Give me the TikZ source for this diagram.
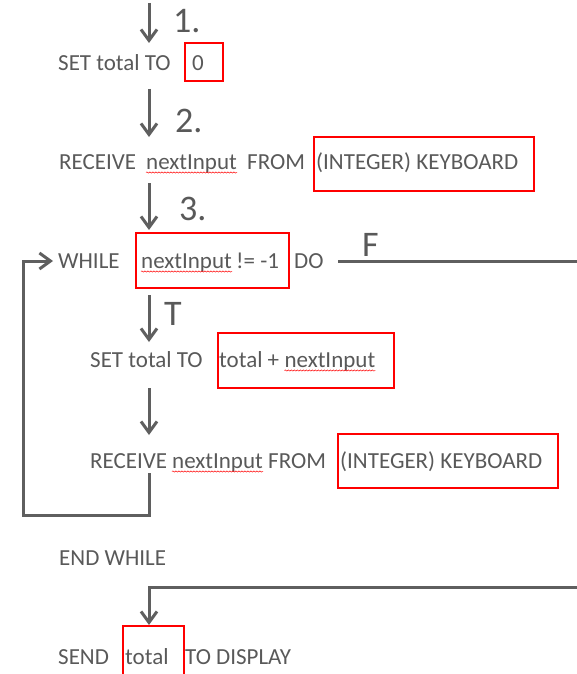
\documentclass[tikz,border=0pt]{standalone}
\usepackage{fontspec}
\setmainfont{Carlito}
\usetikzlibrary{arrows.meta,decorations.pathmorphing}

\definecolor{ink}{RGB}{89,89,89}
\definecolor{flowline}{RGB}{95,95,95}
\definecolor{mark}{RGB}{255,0,0}

\tikzset{
  word/.style={inner sep=0pt, anchor=base west, text=ink,
    font=\fontsize{23}{27}\selectfont},
  bignum/.style={inner sep=0pt, anchor=base west, text=ink,
    font=\fontsize{36}{40}\selectfont},
  flow/.style={draw=flowline, line width=3pt,
    -{Straight Barb[length=11pt,width=16pt,line width=3pt]}},
  plainflow/.style={draw=flowline, line width=3pt},
  hilite/.style={draw=mark, line width=2.5pt},
  squiggle/.style={draw=mark, line width=0.5pt,
    decorate, decoration={snake, segment length=3pt, amplitude=0.6pt}},
}

\newcommand{\spellmark}[1]{%
  \draw[squiggle] ([yshift=-3.5pt]#1.base west) -- ([yshift=-3.5pt]#1.base east);}

\begin{document}
\begin{tikzpicture}[x=1pt, y=-1pt]
\useasboundingbox (0,0) rectangle (577,674);

% ---- step 1: initialise the total
\coordinate (a1s) at (149,3);
\coordinate (a1e) at (149,43);
\node[bignum] (n1) at (173,33) {1.};
\node[word] (s1) at (58,71) {SET total TO};
\node[word] (s1v) at (192,71) {0};
\draw[hilite] (185,43) rectangle (223,81);
\draw[flow] (a1s) -- (a1e);

% ---- step 2: first input
\coordinate (a2s) at (149,89);
\coordinate (a2e) at (149,137);
\node[bignum] (n2) at (175,132) {2.};
\node[word] (r1) at (59,169) {RECEIVE};
\node[word] (r1n) at (146,169) {nextInput};
\node[word] (r1f) at (247,169) {FROM};
\node[word] (r1k) at (316,169) {(INTEGER) KEYBOARD};
\spellmark{r1n}
\draw[hilite] (314,137) rectangle (534,191);
\draw[flow] (a2s) -- (a2e);

% ---- step 3: loop condition
\coordinate (a3s) at (149,183);
\coordinate (a3e) at (149,230);
\node[bignum] (n3) at (179,220) {3.};
\node[word] (w) at (58,268) {WHILE};
\node[word] (wn) at (141,268) {nextInput};
\node[word] (wc) at (236,268) {!= -1};
\node[word] (wd) at (294,268) {DO};
\spellmark{wn}
\draw[hilite] (136,233) rectangle (289,288);
\draw[flow] (a3s) -- (a3e);

% false branch leaves to the right
\coordinate (fs) at (338,261);
\coordinate (fe) at (577,261);
\node[bignum] (fl) at (362,256) {F};
\draw[plainflow] (fs) -- (fe);

% ---- loop body
\coordinate (ats) at (149,295);
\coordinate (ate) at (149,342);
\node[bignum] (tl) at (164,325) {T};
\draw[flow] (ats) -- (ate);

\node[word] (s2) at (90,367) {SET total TO};
\node[word] (s2a) at (219,367) {total +};
\node[word] (s2n) at ([xshift=5pt]s2a.base east) {nextInput};
\spellmark{s2n}
\draw[hilite] (218,333) rectangle (394,388);

\coordinate (a5s) at (149,388);
\coordinate (a5e) at (149,435);
\draw[flow] (a5s) -- (a5e);

\node[word] (r2) at (90,468) {RECEIVE};
\node[word] (r2n) at (172,468) {nextInput};
\node[word] (r2f) at (268,468) {FROM};
\node[word] (r2k) at (340,468) {(INTEGER) KEYBOARD};
\spellmark{r2n}
\draw[hilite] (338,434) rectangle (558,488);

% back edge to the WHILE test
\coordinate (ls) at (149,473);
\coordinate (lc1) at (149,515);
\coordinate (lc2) at (23,515);
\coordinate (lc3) at (23,261);
\coordinate (le) at (53,261);
\draw[flow, line join=miter] (ls) -- (lc1) -- (lc2) -- (lc3) -- (le);

\node[word] (ew) at (59,565) {END WHILE};

% ---- output after the loop
\coordinate (os) at (577,587);
\coordinate (oc) at (149,587);
\coordinate (oe) at (149,625);
\draw[flow, line join=miter] (os) -- (oc) -- (oe);

\node[word] (sd) at (58,664) {SEND};
\node[word] (sdv) at (125,664) {total};
\node[word] (sdt) at (185,664) {TO DISPLAY};
\draw[hilite] (123,674) -- (123,626) -- (184,626) -- (184,674);
\end{tikzpicture}
\end{document}
